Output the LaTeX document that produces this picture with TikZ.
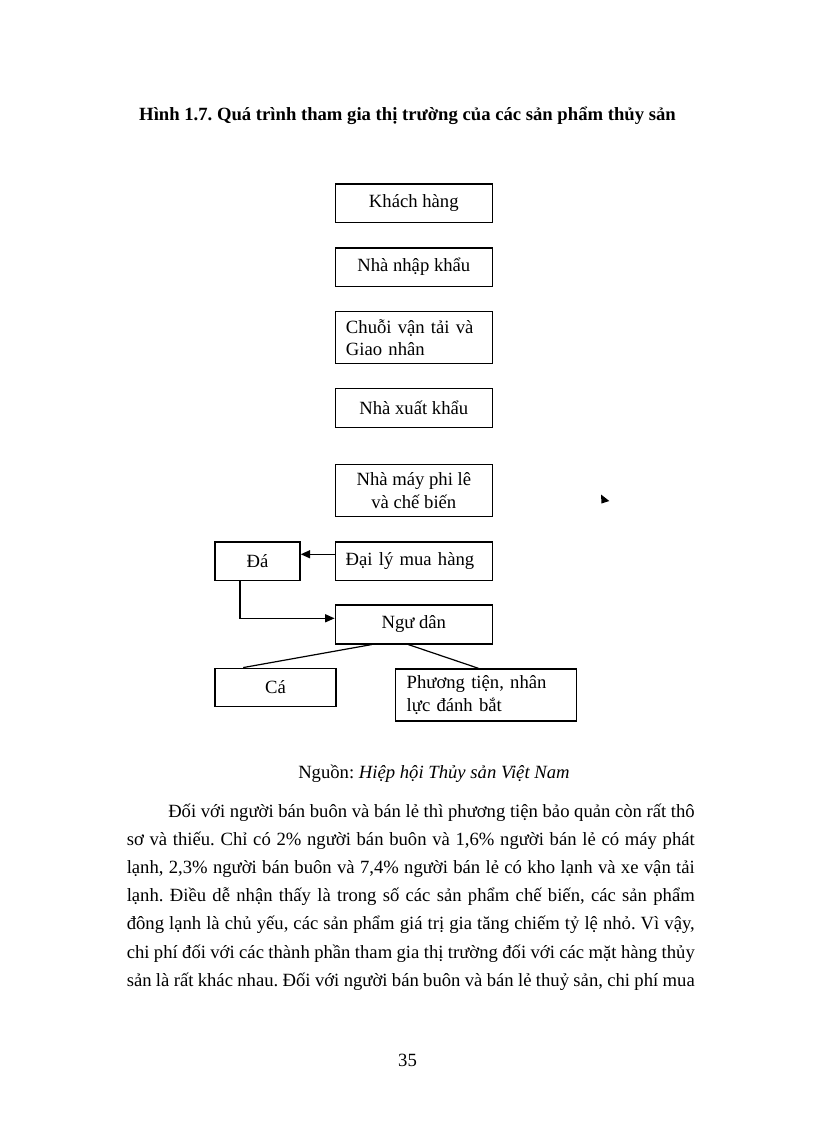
\documentclass[tikz,border=0pt]{standalone}
\usepackage{fontspec}
\setmainfont{Liberation Serif}
\usetikzlibrary{arrows.meta,calc}
\newdimen\PX \PX=0.75pt
\newcommand{\bfont}{\fontsize{14pt}{16.8pt}\selectfont}
\frenchspacing
\begin{document}
\begin{tikzpicture}[x=0.75pt,y=-0.75pt,
  every node/.style={font=\bfont},
  box/.style={draw, line width=1.1pt, inner sep=0pt, minimum width=117.75pt, minimum height=29pt, align=center},
  tallbox/.style={box, minimum height=39pt},
  leftbox/.style={draw, line width=1.1pt, inner ysep=0pt, inner xsep=8pt, text width=101.75pt, minimum height=29pt, align=left},
  arr/.style={-{Triangle[length=7pt,width=6pt]}, line width=0.9pt},
  link/.style={line width=0.9pt},
  txt/.style={inner sep=0pt, anchor=base west}
]
\fill[white] (0,0) rectangle (816,1123);
\useasboundingbox (0,0) rectangle (816,1123);

% title
\node[inner sep=0pt, anchor=base, font=\bfont\bfseries] (ti) at (407.5,121)
  {Hình 1.7. Quá trình tham gia thị trường của các sản phẩm thủy sản};

% boxes
\node[box] (kh) at (413.8,203.4) {Khách hàng};
\node[box] (nk) at (413.8,267.2) {Nhà nhập khẩu};
\node[leftbox, minimum height=39pt] (cv) at (413.8,337.5) {Chuỗi vận tải và\\Giao nhân};
\node[box] (xk) at (413.8,408) {Nhà xuất khẩu};
\node[tallbox] (nm) at (413.8,490.7) {Nhà máy phi lê\\và chế biến};
\node[box, minimum width=63.75pt] (da) at (257.5,561.2) {Đá};
\node[leftbox, inner xsep=7.8pt, text width=102.15pt] (dl) at (413.8,561.2) {Đại lý mua hàng};
\node[box] (nd) at (413.8,624.5) {Ngư dân};
\node[box, minimum width=90.75pt, minimum height=28.8pt] (ca) at (275.5,687.5) {Cá};
\node[leftbox, inner xsep=8.25pt, text width=119.25pt, minimum height=39pt] (pt) at (486.2,695) {Phương tiện, nhân\\lực đánh bắt};

% connectors
\draw[arr] ([yshift=5.2pt]dl.west) -- ([yshift=5.2pt]da.east);
\draw[arr] ([xshift=19.3pt]da.south west) |- ([yshift=4.65pt]nd.west);
\draw[link] ([xshift=-31.6pt]nd.south) -- ([xshift=-24.2pt]ca.north);
\draw[link] ([xshift=-4.1pt]nd.south) -- ([xshift=-5.9pt]pt.north);

% stray arrowhead
\fill (601,494.5) -- (609.3,501) -- (601.5,503.5) -- cycle;

% source
\node[txt] (src) at (298,778) {Nguồn: \textit{Hiệp hội Thủy sản Việt Nam}};

% body text
\node[txt] (l1) at (168,817) {\hbox to 526.5\PX{Đối với người bán buôn và bán lẻ thì phương tiện bảo quản còn rất thô}};
\node[txt] (l2) at (126.5,845.2) {\hbox to 568\PX{sơ và thiếu. Chỉ có 2\% người bán buôn và 1,6\% người bán lẻ có máy phát}};
\node[txt] (l3) at (126.5,873.4) {\hbox to 568\PX{lạnh, 2,3\% người bán buôn và 7,4\% người bán lẻ có kho lạnh và xe vận tải}};
\node[txt] (l4) at (126.5,901.6) {\hbox to 568\PX{lạnh. Điều dễ nhận thấy là trong số các sản phẩm chế biến, các sản phẩm}};
\node[txt] (l5) at (126.5,929.8) {\hbox to 568\PX{đông lạnh là chủ yếu, các sản phẩm giá trị gia tăng chiếm tỷ lệ nhỏ. Vì vậy,}};
\node[txt] (l6) at (126.5,958) {\hbox to 568\PX{chi phí đối với các thành phần tham gia thị trường đối với các mặt hàng thủy}};
\node[txt] (l7) at (126.5,986.2) {\hbox to 568\PX{sản là rất khác nhau. Đối với người bán buôn và bán lẻ thuỷ sản, chi phí mua}};

% page number
\node[inner sep=0pt, anchor=base] (pg) at (407.5,1066.5) {35};
\end{tikzpicture}
\end{document}
